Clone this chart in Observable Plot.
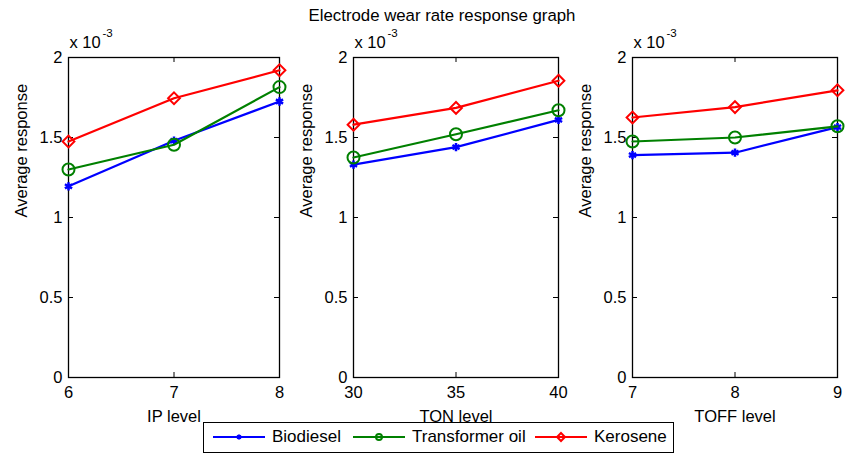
<!DOCTYPE html>
<html>
<head>
<meta charset="utf-8">
<script src="https://cdn.jsdelivr.net/npm/d3@7"></script>
<script src="https://cdn.jsdelivr.net/npm/@observablehq/plot@0.6"></script>
<style>
  html, body { margin: 0; padding: 0; background: #fff; }
  #wrap { position: relative; width: 848px; height: 455px; font-family: "Liberation Sans", Arial, sans-serif; color: #000; overflow: hidden; }
  #title { position: absolute; top: 6px; left: 0; width: 884px; text-align: center; font-size: 16.8px; line-height: 20px; }
  .panel { position: absolute; top: 0; }
  #legend { position: absolute; left: 203px; top: 422px; width: 469px; height: 29px; border: 1px solid #000; background: #fff; font-size: 17px; }
  #legend .item { display: flex; align-items: center; position: absolute; top: 4px; }
  #legend svg { display: block; }
</style>
</head>
<body>
<div id="wrap">
  <div id="title">Electrode wear rate response graph</div>
  <div id="p0" class="panel"></div>
  <div id="p1" class="panel"></div>
  <div id="p2" class="panel"></div>
  <div id="legend"></div>
</div>
<script>
// ---- data (values in units of 10^-3) ----
const seriesNames = ["Biodiesel", "Transformer oil", "Kerosene"];
const seriesColors = ["#0000ff", "#008000", "#ff0000"];
const seriesSymbols = ["asterisk", "circle", "diamond2"];

const ipLevels = [6, 7, 8];
const ipBiodiesel = [1.195, 1.48, 1.725];
const ipTransformer = [1.30, 1.455, 1.815];
const ipKerosene = [1.475, 1.745, 1.92];

const tonLevels = [30, 35, 40];
const tonBiodiesel = [1.33, 1.44, 1.61];
const tonTransformer = [1.375, 1.52, 1.67];
const tonKerosene = [1.58, 1.685, 1.855];

const toffLevels = [7, 8, 9];
const toffBiodiesel = [1.39, 1.405, 1.565];
const toffTransformer = [1.475, 1.50, 1.57];
const toffKerosene = [1.625, 1.69, 1.795];

const yTicks = [0, 0.5, 1, 1.5, 2];
const yLabel = "Average response";
const panelLabels = ["IP level", "TON level", "TOFF level"];

const panels = [
  {levels: ipLevels, series: [ipBiodiesel, ipTransformer, ipKerosene], label: panelLabels[0]},
  {levels: tonLevels, series: [tonBiodiesel, tonTransformer, tonKerosene], label: panelLabels[1]},
  {levels: toffLevels, series: [toffBiodiesel, toffTransformer, toffKerosene], label: panelLabels[2]}
];

// layout of each panel svg
const layout = [
  {left: 0,   width: 300, ml: 68, mr: 21},
  {left: 300, width: 280, ml: 53, mr: 22},
  {left: 580, width: 268, ml: 52, mr: 11}
];
const H = 440, MT = 57, MB = 63;
const innerH = H - MT - MB;
const TICK = 5;
const FONT = "16.5px";

panels.forEach((p, i) => {
  const L = layout[i];
  const innerW = L.width - L.ml - L.mr;
  const rows = [];
  p.series.forEach((vals, s) => vals.forEach((v, k) => rows.push({x: p.levels[k], y: v, name: seriesNames[s]})));
  const innerX = p.levels.slice(1, -1);
  const innerY = yTicks.slice(1, -1);
  const marks = [
    // inward ticks (MATLAB style)
    Plot.tickX(innerX, {x: d => d, insetTop: innerH - TICK, stroke: "#000"}),
    Plot.tickX(innerX, {x: d => d, insetBottom: innerH - TICK, stroke: "#000"}),
    Plot.tickY(innerY, {y: d => d, insetRight: innerW - TICK, stroke: "#000"}),
    Plot.tickY(innerY, {y: d => d, insetLeft: innerW - TICK, stroke: "#000"}),
    Plot.frame({stroke: "#000", strokeWidth: 1.3})
  ];
  seriesNames.forEach((name, s) => {
    const d = rows.filter(r => r.name === name);
    marks.push(Plot.line(d, {x: "x", y: "y", stroke: seriesColors[s], strokeWidth: 2.2}));
    marks.push(Plot.dot(d, {
      x: "x", y: "y", symbol: () => seriesSymbols[s],
      stroke: seriesColors[s], fill: s === 0 ? seriesColors[s] : "none",
      strokeWidth: s === 0 ? 2.5 : 2,
      r: s === 0 ? 3.9 : (s === 1 ? 6 : 5.3)
    }));
  });
  marks.push(
    Plot.axisY(yTicks, {anchor: "left", tickSize: 0, tickPadding: 6, tickFormat: d => String(d), label: null, fontSize: FONT}),
    Plot.axisX(p.levels, {anchor: "bottom", tickSize: 0, tickPadding: 9, tickFormat: d => String(d), label: null, fontSize: FONT}),
    Plot.text([p.label], {frameAnchor: "bottom", dy: 39, text: d => d, fontSize: FONT, lineAnchor: "middle"}),
    Plot.text([yLabel], {frameAnchor: "left", dx: -47, rotate: -90, text: d => d, fontSize: FONT, lineAnchor: "middle"}),
    Plot.text(["x 10"], {frameAnchor: "top-left", dx: 1, dy: -15, text: d => d, fontSize: FONT, textAnchor: "start", lineAnchor: "middle"}),
    Plot.text(["-3"], {frameAnchor: "top-left", dx: 34, dy: -24, text: d => d, fontSize: "11.5px", textAnchor: "start", lineAnchor: "middle"})
  );
  const chart = Plot.plot({
    width: L.width, height: H,
    marginLeft: L.ml, marginRight: L.mr, marginTop: MT, marginBottom: MB,
    style: {background: "transparent", overflow: "visible", fontFamily: "'Liberation Sans', Arial, sans-serif", fontSize: FONT, color: "#000"},
    x: {domain: [p.levels[0], p.levels[p.levels.length - 1]]},
    y: {domain: [0, 2]},
    marks
  });
  const host = document.getElementById("p" + i);
  host.style.left = L.left + "px";
  host.appendChild(chart);
});

// ---- legend ----
const leg = document.getElementById("legend");
const sampleSvg = (s) => {
  const ns = "http://www.w3.org/2000/svg";
  const svg = document.createElementNS(ns, "svg");
  svg.setAttribute("width", 52); svg.setAttribute("height", 20);
  const line = document.createElementNS(ns, "line");
  line.setAttribute("x1", 0); line.setAttribute("x2", 52); line.setAttribute("y1", 10); line.setAttribute("y2", 10);
  line.setAttribute("stroke", seriesColors[s]); line.setAttribute("stroke-width", 2.2);
  svg.appendChild(line);
  const g = document.createElementNS(ns, "path");
  const sym = [d3.symbolAsterisk, d3.symbolCircle, d3.symbolDiamond2][s];
  const size = [18, 28, 40][s];
  g.setAttribute("d", d3.symbol(sym, size)());
  g.setAttribute("transform", "translate(26,10)");
  g.setAttribute("stroke", seriesColors[s]);
  g.setAttribute("stroke-width", 2);
  g.setAttribute("fill", s === 0 ? seriesColors[s] : "none");
  svg.appendChild(g);
  return svg;
};
const offsets = [9, 149, 331];
seriesNames.forEach((name, s) => {
  const item = document.createElement("div");
  item.className = "item";
  item.style.left = offsets[s] + "px";
  item.appendChild(sampleSvg(s));
  const t = document.createElement("span");
  t.textContent = name;
  t.style.marginLeft = "7px";
  item.appendChild(t);
  leg.appendChild(item);
});
</script>
</body>
</html>
